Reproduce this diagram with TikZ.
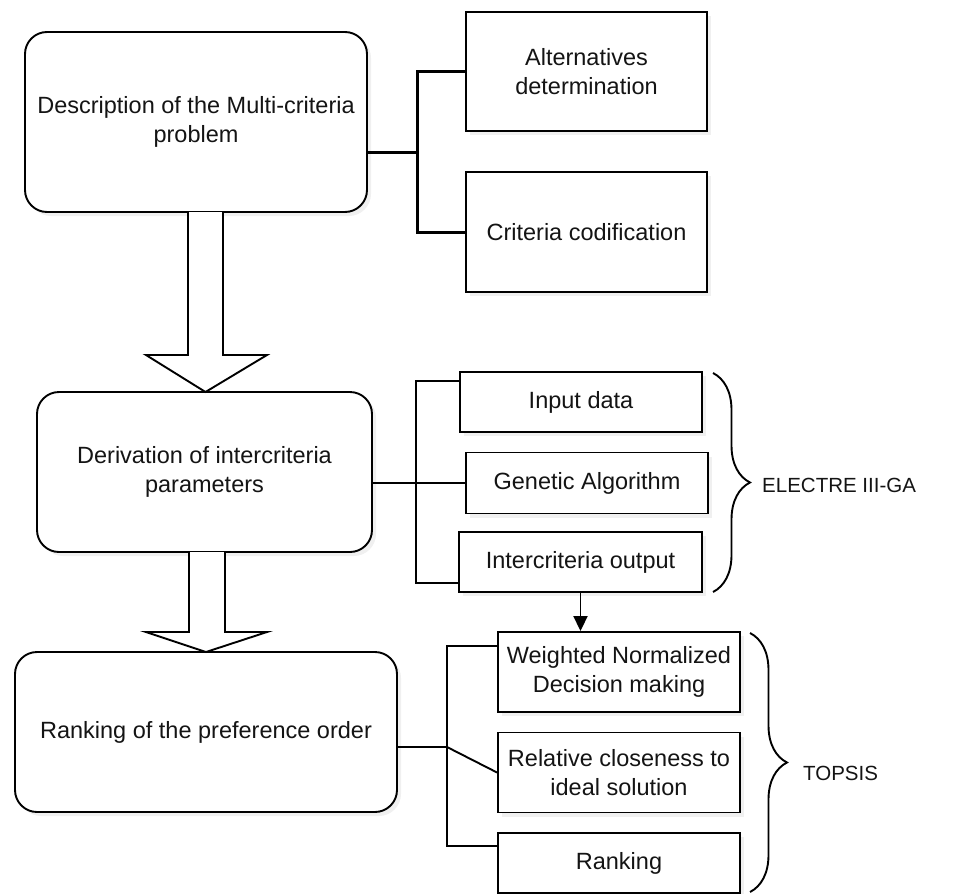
\documentclass[tikz,border=0pt]{standalone}
\usepackage{fontspec}
\setmainfont{Liberation Sans}
\usetikzlibrary{shadows,decorations.pathreplacing,arrows.meta,calc}
\begin{document}
\begin{tikzpicture}[x=1pt,y=-1pt,
  txt/.style={font=\fontsize{23.5}{29}\selectfont, text=black!92, align=center},
  shad/.style={drop shadow={opacity=0.12, shadow xshift=4pt, shadow yshift=-4pt}},
  bigbox/.style={draw, line width=1.9pt, rounded corners=22pt, inner sep=0pt, txt, fill=white, shad},
  smallbox/.style={draw, line width=1.9pt, inner sep=0pt, txt, fill=white, shad},
  conn/.style={line width=1.9pt},
  thickconn/.style={line width=3pt},
  bigarrow/.style={line width=1.9pt, line join=miter},
  bracestyle/.style={decorate, decoration={brace, amplitude=37pt, aspect=0.5}, line width=1.9pt},
  lab/.style={font=\fontsize{20.5}{24}\selectfont, text=black!92, anchor=west, inner sep=0pt}]
\useasboundingbox (0,0) rectangle (956,894);

% main boxes
\node[bigbox, minimum width=342pt, minimum height=180pt] (b1) at (196,122) {Description of the Multi-criteria\\problem};
\node[bigbox, minimum width=335pt, minimum height=160pt] (b2) at (204.5,472) {Derivation of intercriteria\\parameters};
\node[bigbox, minimum width=382pt, minimum height=160pt] (b3) at (206,732) {Ranking of the preference order};

% side boxes
\node[smallbox, minimum width=241pt, minimum height=119pt] (alt) at (586.5,71.5) {Alternatives\\determination};
\node[smallbox, minimum width=241pt, minimum height=120pt] (crit) at (586.5,232) {Criteria codification};

\node[smallbox, minimum width=242pt, minimum height=60pt] (inp) at (581,402) {Input data};
\node[smallbox, minimum width=242pt, minimum height=61pt] (gen) at (587,483) {Genetic Algorithm};
\node[smallbox, minimum width=243pt, minimum height=60pt] (outp) at (580.5,562) {Intercriteria output};

\node[smallbox, minimum width=242pt, minimum height=80pt] (wn) at (619,672) {Weighted Normalized\\Decision making};
\node[smallbox, minimum width=242pt, minimum height=80pt] (rel) at (619,772.5) {Relative closeness to\\ideal solution};
\node[smallbox, minimum width=242pt, minimum height=60pt] (rk) at (619,863) {Ranking};

% big block arrows
\fill[white] (188,212) -- (188,355) -- (146,355) -- (205.5,392) -- (267,355) -- (223,355) -- (223,212) -- cycle;
\draw[bigarrow] (188,212) -- (188,355) -- (146,355) -- (205.5,392) -- (267,355) -- (223,355) -- (223,212);
\fill[white] (189,552) -- (189,632) -- (146,632) -- (206,652) -- (267,632) -- (225,632) -- (225,552) -- cycle;
\draw[bigarrow] (189,552) -- (189,632) -- (146,632) -- (206,652) -- (267,632) -- (225,632) -- (225,552);

% top connectors
\coordinate (j1) at (417,152);
\draw[thickconn] ([yshift=-30pt]b1.east) -- (j1);
\draw[thickconn] (alt.west) -| (j1) |- (crit.west);

% middle connectors
\draw[conn] (b2.east |- gen.west) -- (gen.west);
\draw[conn] ([yshift=-10pt]inp.north west) -- ++(-43,0) |- ([yshift=10pt]outp.south west);

% bottom connectors
\coordinate (j3) at (447,747);
\draw[conn] ([yshift=-15pt]b3.east) -- (j3) -- (rel.west);
\draw[conn] ([yshift=-15pt]wn.north west) -| (j3) |- ([yshift=-14pt]rk.north west);

% small arrow
\draw[conn, -{Triangle[length=15pt,width=14pt]}] (outp.south) -- (outp.south |- wn.north);

% braces
\coordinate (e1) at (713,373);
\coordinate (e2) at (713,592);
\draw[bracestyle] (e1) -- (e2);
\node[lab] (el) at (762,485) {ELECTRE III-GA};
\coordinate (t1) at (750,633);
\coordinate (t2) at (750,892);
\draw[bracestyle] (t1) -- (t2);
\node[lab] (tl) at (803,773) {TOPSIS};
\end{tikzpicture}
\end{document}
